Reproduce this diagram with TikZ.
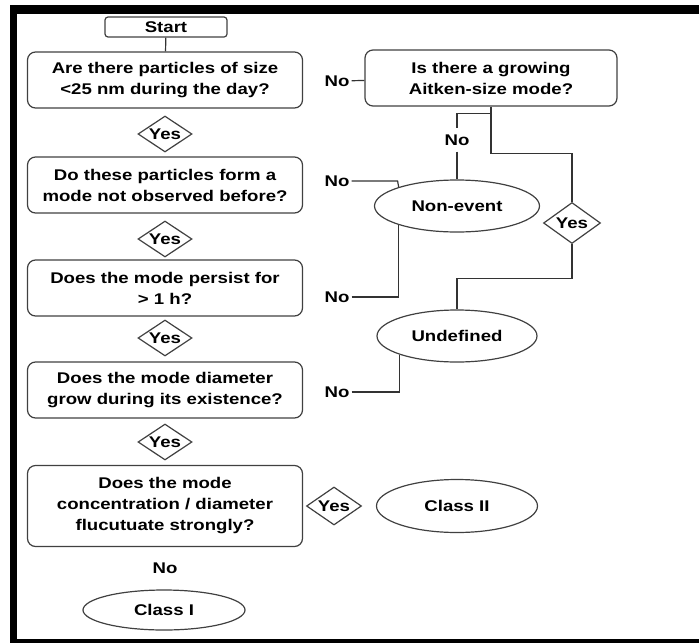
\documentclass[tikz,border=0pt]{standalone}
\usepackage{fontspec}
\setmainfont[FakeStretch=1.2]{Liberation Sans}
\usetikzlibrary{shapes.geometric}
\tikzset{
    question-box/.style = {draw=black!75, line width=1.2pt, rectangle, rounded corners=8pt, minimum width=275pt, minimum height=56pt, align=center, inner sep=2pt},
    start-box/.style = {draw=black!75, line width=1.2pt, rectangle, rounded corners=3pt, minimum width=122pt, minimum height=20pt, inner sep=0pt},
    yes-diamond/.style = {draw=black!75, line width=1.2pt, diamond, aspect=1.5, minimum width=54pt, minimum height=36pt, inner sep=0pt},
    end-ellipse/.style = {draw=black!75, line width=1.2pt, ellipse, minimum width=162pt, minimum height=52pt, inner sep=0pt},
    no-label/.style = {inner sep=2pt},
    link/.style = {draw=black!80, line width=1.2pt},
}

\begin{document}
\begin{tikzpicture}[x=1pt, y=-1pt, font=\fontsize{15.5}{21}\selectfont\bfseries]
\useasboundingbox (0,0) rectangle (699,643);
\fill[black] (10,5) rectangle (699,14);
\fill[black] (10,5) rectangle (17,643);
\fill[black] (10,639) rectangle (699,643);

\node[start-box] (start) at (166,27) {Start};
\node[question-box] (q1) at (165,80) {Are there particles of size\\<25 nm during the day?};
\node[yes-diamond] (y1) at (165,134) {Yes};
\node[question-box] (q2) at (165,185) {Do these particles form a\\mode not observed before?};
\node[yes-diamond] (y2) at (165,239) {Yes};
\node[question-box] (q3) at (165,288) {Does the mode persist for\\> 1 h?};
\node[yes-diamond] (y3) at (165,338) {Yes};
\node[question-box] (q4) at (165,390) {Does the mode diameter\\grow during its existence?};
\node[yes-diamond] (y4) at (165,442) {Yes};
\node[question-box, minimum height=81pt] (q5) at (165,506) {Does the mode\\concentration / diameter\\flucutuate strongly?};
\node[yes-diamond, minimum width=55pt, minimum height=38pt] (y5) at (334,506) {Yes};
\node[end-ellipse, minimum width=161pt, minimum height=53pt] (class2) at (457,506) {Class II};
\node[no-label] (no6) at (165,568) {No};
\node[end-ellipse, minimum height=40pt] (class1) at (164,610) {Class I};

\node[no-label] (no1) at (337,81) {No};
\node[no-label] (no2) at (337,181) {No};
\node[no-label] (no3) at (337,297) {No};
\node[no-label] (no4) at (337,392) {No};

\node[question-box, minimum width=252pt] (q6) at (491,78) {Is there a growing\\Aitken-size mode?};
\node[no-label, inner ysep=6pt] (no5) at (457,140) {No};
\node[end-ellipse, minimum width=165pt] (nonevent) at (457,206) {Non-event};
\node[yes-diamond, minimum width=57pt, minimum height=41pt] (yesr) at (572,223) {Yes};
\node[end-ellipse, minimum width=160pt] (undef) at (457,336) {Undefined};

\draw[link] (start) -- (q1);
\draw[link] (no1) -- (q6);
\draw[link] (no2.east) -- ++(46,0) -- (nonevent.162);
\draw[link] (no3.east) -| (nonevent.198);
\draw[link] (no4.east) -| (undef.198);
\draw[link] (q6.south) -- ++(0,47) -| (yesr.north);
\draw[link] ([yshift=-7pt]q6.south) -| (no5.north);
\draw[link] (no5.south) -- (nonevent.north);
\draw[link] (yesr.south) -- ++(0,34) -| (undef.north);
\end{tikzpicture}
\end{document}
